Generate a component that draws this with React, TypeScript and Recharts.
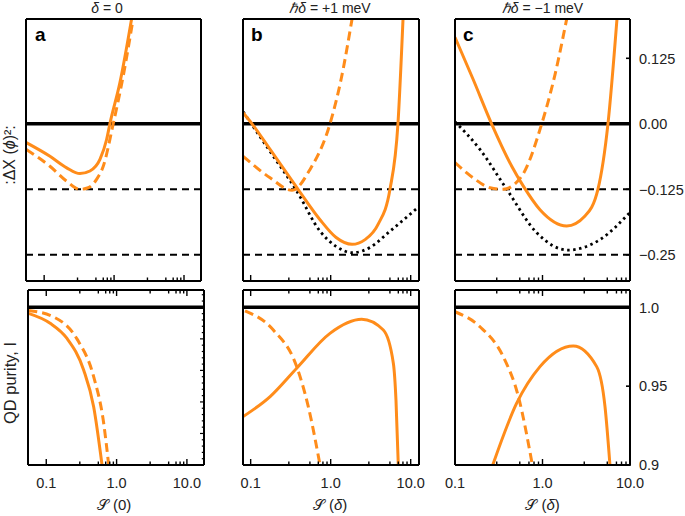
import React from "react";
import { LineChart, Line, XAxis, YAxis, ReferenceLine } from "recharts";

const W = 685;
const H = 516;
const ORANGE = "#ff8c1a";
const FONT = "'Liberation Sans', Arial, Helvetica, sans-serif";

type Pt = { x: number; y: number };

// x axis ticks (log scale)
const xMajor = [0.1, 1, 10];
const xMinor = [0.3, 0.55, 0.7, 0.8, 0.9, 3, 5.5, 7, 8, 9];
const xMajorLabels = ["0.1", "1.0", "10.0"];

// y axis ticks
const corrTicks = [0.125, 0, -0.125, -0.25];
const corrLabels = ["0.125", "0.00", "\u22120.125", "\u22120.25"];
const purityTicks = [1.0, 0.95, 0.9];
const purityLabels = ["1.0", "0.95", "0.9"];
const purityMinor: number[] = [];
for (let i = 1; i <= 27; i++) purityMinor.push(+(0.9 + i * 0.004).toFixed(3));

// x domains
const domA: [number, number] = [0.055, 17.5];
const domB: [number, number] = [0.0802, 12.7];
const domC: [number, number] = [0.1, 10];

// ---- panel a, top: :ΔX(ϕ)²:
const aTopSolid: Pt[] = [
  { x: 0.0556, y: -0.036 }, { x: 0.121, y: -0.062 }, { x: 0.21, y: -0.084 },
  { x: 0.325, y: -0.095 }, { x: 0.452, y: -0.09 }, { x: 0.628, y: -0.068 },
  { x: 0.782, y: -0.03 }, { x: 0.871, y: 0 }, { x: 1.21, y: 0.078 }, { x: 1.78, y: 0.2 },
];
const aTopDashed: Pt[] = [
  { x: 0.0556, y: -0.049 }, { x: 0.121, y: -0.081 }, { x: 0.21, y: -0.1095 },
  { x: 0.325, y: -0.125 }, { x: 0.427, y: -0.122 }, { x: 0.562, y: -0.106 },
  { x: 0.7, y: -0.081 }, { x: 0.972, y: 0 }, { x: 1.35, y: 0.091 }, { x: 1.87, y: 0.2 },
];

// ---- panel b, top
const bTopSolid: Pt[] = [
  { x: 0.0805, y: 0.021 }, { x: 0.104, y: 0 }, { x: 0.175, y: -0.049 },
  { x: 0.391, y: -0.125 }, { x: 0.736, y: -0.183 }, { x: 1.17, y: -0.217 },
  { x: 1.85, y: -0.23 }, { x: 2.69, y: -0.221 }, { x: 3.91, y: -0.192 },
  { x: 5.51, y: -0.125 }, { x: 6.93, y: 0 }, { x: 8.02, y: 0.2 },
];
const bTopDashed: Pt[] = [
  { x: 0.0805, y: -0.062 }, { x: 0.175, y: -0.103 }, { x: 0.329, y: -0.127 },
  { x: 0.552, y: -0.087 }, { x: 0.98, y: 0 }, { x: 1.35, y: 0.085 },
  { x: 1.85, y: 0.2 },
];
const bTopDotted: Pt[] = [
  { x: 0.0805, y: 0.023 }, { x: 0.175, y: -0.053 }, { x: 0.379, y: -0.129 },
  { x: 0.736, y: -0.205 }, { x: 1.17, y: -0.234 }, { x: 1.9, y: -0.246 },
  { x: 3.1, y: -0.236 }, { x: 5.51, y: -0.205 }, { x: 12.7, y: -0.158 },
];

// ---- panel c, top
const cTopSolid: Pt[] = [
  { x: 0.1, y: 0.165 }, { x: 0.161, y: 0.085 }, { x: 0.262, y: 0 },
  { x: 0.445, y: -0.081 }, { x: 0.604, y: -0.119 }, { x: 0.936, y: -0.164 },
  { x: 1.89, y: -0.195 }, { x: 3.06, y: -0.176 }, { x: 4.3, y: -0.125 },
  { x: 5.6, y: 0 }, { x: 7.1, y: 0.2 },
];
const cTopDashed: Pt[] = [
  { x: 0.1, y: -0.074 }, { x: 0.161, y: -0.103 }, { x: 0.251, y: -0.122 },
  { x: 0.354, y: -0.125 }, { x: 0.578, y: -0.1 }, { x: 0.98, y: 0 },
  { x: 1.39, y: 0.094 }, { x: 1.89, y: 0.2 },
];
const cTopDotted: Pt[] = [
  { x: 0.1, y: 0.004 }, { x: 0.193, y: -0.049 }, { x: 0.39, y: -0.125 },
  { x: 0.86, y: -0.208 }, { x: 1.95, y: -0.241 }, { x: 4.54, y: -0.221 },
  { x: 10, y: -0.169 },
];

// ---- bottom row: QD purity
const aBotSolid: Pt[] = [
  { x: 0.0556, y: 0.9962 }, { x: 0.1135, y: 0.9899 }, { x: 0.196, y: 0.9804 },
  { x: 0.34, y: 0.9603 }, { x: 0.472, y: 0.937 }, { x: 0.621, y: 0.9 },
];
const aBotDashed: Pt[] = [
  { x: 0.0556, y: 0.998 }, { x: 0.126, y: 0.994 }, { x: 0.273, y: 0.98 },
  { x: 0.472, y: 0.956 }, { x: 0.655, y: 0.9266 }, { x: 0.772, y: 0.9 },
];
const bBotSolid: Pt[] = [
  { x: 0.0805, y: 0.9307 }, { x: 0.175, y: 0.9434 }, { x: 0.376, y: 0.9614 },
  { x: 0.98, y: 0.9835 }, { x: 2.44, y: 0.9924 }, { x: 4.55, y: 0.9856 },
  { x: 6.07, y: 0.9646 }, { x: 6.55, y: 0.941 }, { x: 7.0, y: 0.9 },
];
const bBotDashed: Pt[] = [
  { x: 0.085, y: 0.9978 }, { x: 0.192, y: 0.9856 }, { x: 0.376, y: 0.9624 },
  { x: 0.525, y: 0.937 }, { x: 0.736, y: 0.9 },
];
const cBotSolid: Pt[] = [
  { x: 0.27, y: 0.9 }, { x: 0.507, y: 0.9392 }, { x: 0.936, y: 0.9624 },
  { x: 2.25, y: 0.9755 }, { x: 4.16, y: 0.9624 }, { x: 5.18, y: 0.937 },
  { x: 5.9, y: 0.9 },
];
const cBotDashed: Pt[] = [
  { x: 0.1, y: 0.9972 }, { x: 0.193, y: 0.9877 }, { x: 0.356, y: 0.9687 },
  { x: 0.53, y: 0.9434 }, { x: 0.766, y: 0.9 },
];

type Rect = { left: number; right: number; top: number; bottom: number };
type Series = { data: Pt[]; kind: "solid" | "dashed" | "dotted" };

const AX = { stroke: "#000", strokeWidth: 2 };

function xTick(edge: "top" | "bottom", labels: boolean) {
  return (p: any) => {
    const v = p.payload.value;
    const mi = xMajor.indexOf(v);
    const len = mi >= 0 ? 6 : 3.5;
    const dir = edge === "bottom" ? -1 : 1;
    return (
      <g>
        <line x1={p.x} y1={p.y} x2={p.x} y2={p.y + dir * len} stroke="#000" strokeWidth={1.4} />
        {labels && mi >= 0 && (
          <text x={p.x} y={p.y + 23} textAnchor="middle" fontFamily={FONT} fontSize={14.5} fill="#222">
            {xMajorLabels[mi]}
          </text>
        )}
      </g>
    );
  };
}

function rightTick(values: number[], labels: string[]) {
  return (p: any) => {
    const i = values.indexOf(p.payload.value);
    return (
      <g>
        <line x1={p.x - 4} y1={p.y} x2={p.x + 1} y2={p.y} stroke="#000" strokeWidth={1.6} />
        {i >= 0 && (
          <text x={p.x + 9} y={p.y} dy="0.36em" textAnchor="start" fontFamily={FONT} fontSize={14.5} fill="#222">
            {labels[i]}
          </text>
        )}
      </g>
    );
  };
}

const minorRightTick = (p: any) => {
  const v = p.payload.value;
  const r = Math.round(v * 1000) % 20;
  const len = r === 0 ? 4 : 2.2;
  return <line x1={p.x} y1={p.y} x2={p.x - len} y2={p.y} stroke="#000" strokeWidth={1.2} />;
};

function Panel(props: {
  rect: Rect;
  xDomain: [number, number];
  yDomain: [number, number];
  series: Series[];
  zeroLine: number;
  dashedRefs: number[];
  topTicks: boolean;
  labels: boolean;
  right: "none" | "corr" | "purity" | "minor";
}) {
  const { rect, xDomain, yDomain, series, zeroLine, dashedRefs, topTicks, labels, right } = props;
  const allX = [...xMajor, ...xMinor];
  let rTicks: number[] = [];
  let rTick: any = false;
  if (right === "corr") {
    rTicks = corrTicks;
    rTick = rightTick(corrTicks, corrLabels);
  } else if (right === "purity") {
    rTicks = purityTicks;
    rTick = rightTick(purityTicks, purityLabels);
  } else if (right === "minor") {
    rTicks = purityMinor;
    rTick = minorRightTick;
  }
  // axes are 1px thick boxes so that they render; margins compensate
  return (
    <div style={{ position: "absolute", left: 0, top: 0 }}>
      <LineChart
        width={W}
        height={H}
        margin={{ left: rect.left - 1, top: rect.top - 1, right: W - rect.right - 1, bottom: H - rect.bottom - 1 }}
      >
        <XAxis
          dataKey="x"
          type="number"
          scale="log"
          domain={xDomain}
          allowDataOverflow
          ticks={allX}
          interval={0}
          height={1}
          tickSize={0}
          tickMargin={0}
          tickLine={false}
          axisLine={AX}
          tick={xTick("bottom", labels)}
        />
        <XAxis
          xAxisId="top"
          orientation="top"
          dataKey="x"
          type="number"
          scale="log"
          domain={xDomain}
          allowDataOverflow
          ticks={allX}
          interval={0}
          height={1}
          tickSize={0}
          tickMargin={0}
          tickLine={false}
          axisLine={AX}
          tick={topTicks ? xTick("top", false) : false}
        />
        <YAxis
          type="number"
          domain={yDomain}
          allowDataOverflow
          width={1}
          tick={false}
          tickLine={false}
          axisLine={AX}
        />
        <YAxis
          yAxisId="right"
          orientation="right"
          type="number"
          domain={yDomain}
          allowDataOverflow
          ticks={rTicks.length ? rTicks : undefined}
          interval={0}
          width={1}
          tickSize={0}
          tickMargin={0}
          tickLine={false}
          axisLine={AX}
          tick={rTick}
        />
        <ReferenceLine y={zeroLine} stroke="#000" strokeWidth={3.5} />
        {dashedRefs.map((r) => (
          <ReferenceLine key={r} y={r} stroke="#000" strokeWidth={2} strokeDasharray="7 5" />
        ))}
        {series.map((s, i) => (
          <Line
            key={i}
            data={s.data}
            dataKey="y"
            type="monotone"
            stroke={s.kind === "dotted" ? "#000" : ORANGE}
            strokeWidth={s.kind === "dotted" ? 2.8 : 3}
            strokeDasharray={s.kind === "dashed" ? "9 5" : s.kind === "dotted" ? "2.5 3.5" : undefined}
            dot={false}
            activeDot={false}
            isAnimationActive={false}
          />
        ))}
      </LineChart>
    </div>
  );
}

const topY: [number, number] = [-0.3, 0.2];
const botY: [number, number] = [0.9, 1.011];

export default function App() {
  const it = { fontStyle: "italic" as const };
  return (
    <div style={{ position: "absolute", left: 0, top: 0, width: W, height: H, background: "#fff" }}>
      <Panel rect={{ left: 26, right: 201, top: 19, bottom: 281 }} xDomain={domA} yDomain={topY}
        series={[{ data: aTopDashed, kind: "dashed" }, { data: aTopSolid, kind: "solid" }]}
        zeroLine={0} dashedRefs={[-0.125, -0.25]} topTicks={false} labels={false} right="none" />
      <Panel rect={{ left: 243, right: 419, top: 19, bottom: 281 }} xDomain={domB} yDomain={topY}
        series={[{ data: bTopDotted, kind: "dotted" }, { data: bTopDashed, kind: "dashed" }, { data: bTopSolid, kind: "solid" }]}
        zeroLine={0} dashedRefs={[-0.125, -0.25]} topTicks={false} labels={false} right="none" />
      <Panel rect={{ left: 455, right: 630, top: 19, bottom: 281 }} xDomain={domC} yDomain={topY}
        series={[{ data: cTopDotted, kind: "dotted" }, { data: cTopDashed, kind: "dashed" }, { data: cTopSolid, kind: "solid" }]}
        zeroLine={0} dashedRefs={[-0.125, -0.25]} topTicks={false} labels={false} right="corr" />
      <Panel rect={{ left: 28, right: 204, top: 290, bottom: 465 }} xDomain={domA} yDomain={botY}
        series={[{ data: aBotDashed, kind: "dashed" }, { data: aBotSolid, kind: "solid" }]}
        zeroLine={1} dashedRefs={[]} topTicks labels right="minor" />
      <Panel rect={{ left: 243, right: 419, top: 290, bottom: 465 }} xDomain={domB} yDomain={botY}
        series={[{ data: bBotDashed, kind: "dashed" }, { data: bBotSolid, kind: "solid" }]}
        zeroLine={1} dashedRefs={[]} topTicks labels right="none" />
      <Panel rect={{ left: 455, right: 630, top: 290, bottom: 465 }} xDomain={domC} yDomain={botY}
        series={[{ data: cBotDashed, kind: "dashed" }, { data: cBotSolid, kind: "solid" }]}
        zeroLine={1} dashedRefs={[]} topTicks labels right="purity" />

      <svg width={W} height={H} style={{ position: "absolute", left: 0, top: 0, pointerEvents: "none" }}
        fontFamily={FONT} fill="#222">
        <text x={107} y={13} textAnchor="middle" fontSize={14}>
          <tspan {...it}>δ</tspan> = 0
        </text>
        <text x={330} y={13} textAnchor="middle" fontSize={14}>
          <tspan {...it}>ℏδ</tspan> = +1 meV
        </text>
        <text x={542.5} y={13} textAnchor="middle" fontSize={14}>
          <tspan {...it}>ℏδ</tspan> = {"\u2212"}1 meV
        </text>

        <text x={35} y={40.5} fontSize={19} fontWeight="bold" fill="#000">a</text>
        <text x={251} y={40.5} fontSize={19} fontWeight="bold" fill="#000">b</text>
        <text x={463} y={40.5} fontSize={19} fontWeight="bold" fill="#000">c</text>

        <text x={114} y={510} textAnchor="middle" fontSize={15}>
          𝒮 (0)
        </text>
        <text x={330} y={510} textAnchor="middle" fontSize={15}>
          𝒮 (<tspan {...it}>δ</tspan>)
        </text>
        <text x={542.5} y={510} textAnchor="middle" fontSize={15}>
          𝒮 (<tspan {...it}>δ</tspan>)
        </text>

        <text transform="translate(15,155) rotate(-90)" textAnchor="middle" fontSize={16}>
          :ΔX (<tspan {...it}>ϕ</tspan>)²:
        </text>
        <text transform="translate(16,383) rotate(-90)" textAnchor="middle" fontSize={16.5}>
          QD purity, I
        </text>
      </svg>
    </div>
  );
}
